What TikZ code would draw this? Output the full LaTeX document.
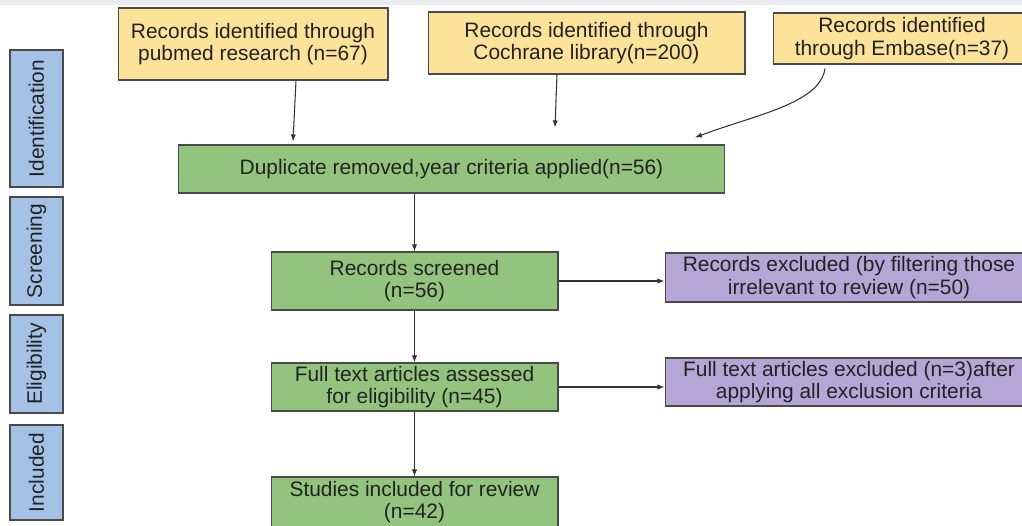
\documentclass[tikz,border=0pt]{standalone}
\usepackage{fontspec}
\setmainfont{Liberation Sans}
\usepackage{xcolor}
\usetikzlibrary{arrows.meta,positioning}
\definecolor{gyellow}{HTML}{FDE39A}
\definecolor{ggreen}{HTML}{93C47D}
\definecolor{gpurple}{HTML}{B4A7D6}
\definecolor{gblue}{HTML}{A4C2E6}
\definecolor{gedge}{HTML}{4A4A4A}
\definecolor{gbar}{HTML}{E9EBEE}
\definecolor{gtext}{HTML}{222222}

\begin{document}
\begin{tikzpicture}[x=0.02cm,y=-0.02cm,
  every node/.style={font=\fontsize{11.9}{12.7}\selectfont,text=gtext,align=center,inner sep=0pt},
  box/.style={draw=gedge,line width=0.6pt},
  srcbox/.style={box,fill=gyellow},
  stepbox/.style={box,fill=ggreen},
  outbox/.style={box,fill=gpurple},
  phasebox/.style={box,fill=gblue,rotate=90,minimum height=1.06cm},
  arr/.style={-{Latex[length=4pt,width=3pt]},draw=black!80,line width=0.6pt}]
  \useasboundingbox (0,0) rectangle (1022,525);
  \clip (0,0) rectangle (1022,525);
  \fill[gbar] (0,0) rectangle (1022,5);
  % phase labels
  \node[phasebox,minimum width=2.74cm] (pident) at (36.5,118.5) {Identification};
  \node[phasebox,minimum width=2.16cm] (pscreen) at (36.5,251) {Screening};
  \node[phasebox,minimum width=1.96cm] (pelig) at (36.5,364) {Eligibility};
  \node[phasebox,minimum width=1.9cm] (pincl) at (36.5,472.5) {Included};
  % sources
  \node[srcbox,minimum width=5.4cm,minimum height=1.44cm] (pubmed) at (253,44) {Records identified through\\pubmed research (n=67)};
  \node[srcbox,minimum width=6.34cm,minimum height=1.24cm] (cochrane) at (586.5,43) {Records identified through\\Cochrane library(n=200)};
  \node[srcbox,minimum width=5.16cm,minimum height=1.02cm] (embase) at (902,38.5) {Records identified\\through Embase(n=37)};
  % flow
  \node[stepbox,minimum width=10.94cm,minimum height=0.96cm] (dup) at (451.5,169) {Duplicate removed,year criteria applied(n=56)};
  \node[stepbox,minimum width=5.74cm,minimum height=1.16cm] (screened) at (414.5,281) {Records screened\\(n=56)};
  \node[stepbox,minimum width=5.74cm,minimum height=0.96cm] (assessed) at (414.5,387) {Full text articles assessed\\for eligibility (n=45)};
  \node[stepbox,minimum width=5.74cm,minimum height=1.0cm] (included) at (414.5,502) {Studies included for review\\(n=42)};
  \node[outbox,minimum width=7.36cm,minimum height=0.98cm] (excl1) at (849,277.5) {Records excluded (by filtering those\\irrelevant to review (n=50)};
  \node[outbox,minimum width=7.36cm,minimum height=0.96cm] (excl2) at (849,382) {Full text articles excluded (n=3)after\\applying all exclusion criteria};
  % connectors
  \draw[arr] ([xshift=0.86cm]pubmed.south) -- ([xshift=-3.17cm,yshift=0.06cm]dup.north);
  \draw[arr] ([xshift=-0.59cm]cochrane.south) -- ([xshift=2.07cm,yshift=0.34cm]dup.north);
  \draw[arr] ([xshift=-1.54cm,yshift=-0.08cm]embase.south) .. controls +(-0.1cm,-0.7cm) and +(1.2cm,0.45cm) .. ([xshift=4.87cm,yshift=0.14cm]dup.north);
  \draw[arr] (dup.south -| screened.north) -- (screened.north);
  \draw[arr] (screened.south) -- (assessed.north);
  \draw[arr] (assessed.south) -- (included.north);
  \draw[arr] (screened.east) -- (screened.east -| excl1.west);
  \draw[arr] (assessed.east) -- (assessed.east -| excl2.west);
\end{tikzpicture}
\end{document}
